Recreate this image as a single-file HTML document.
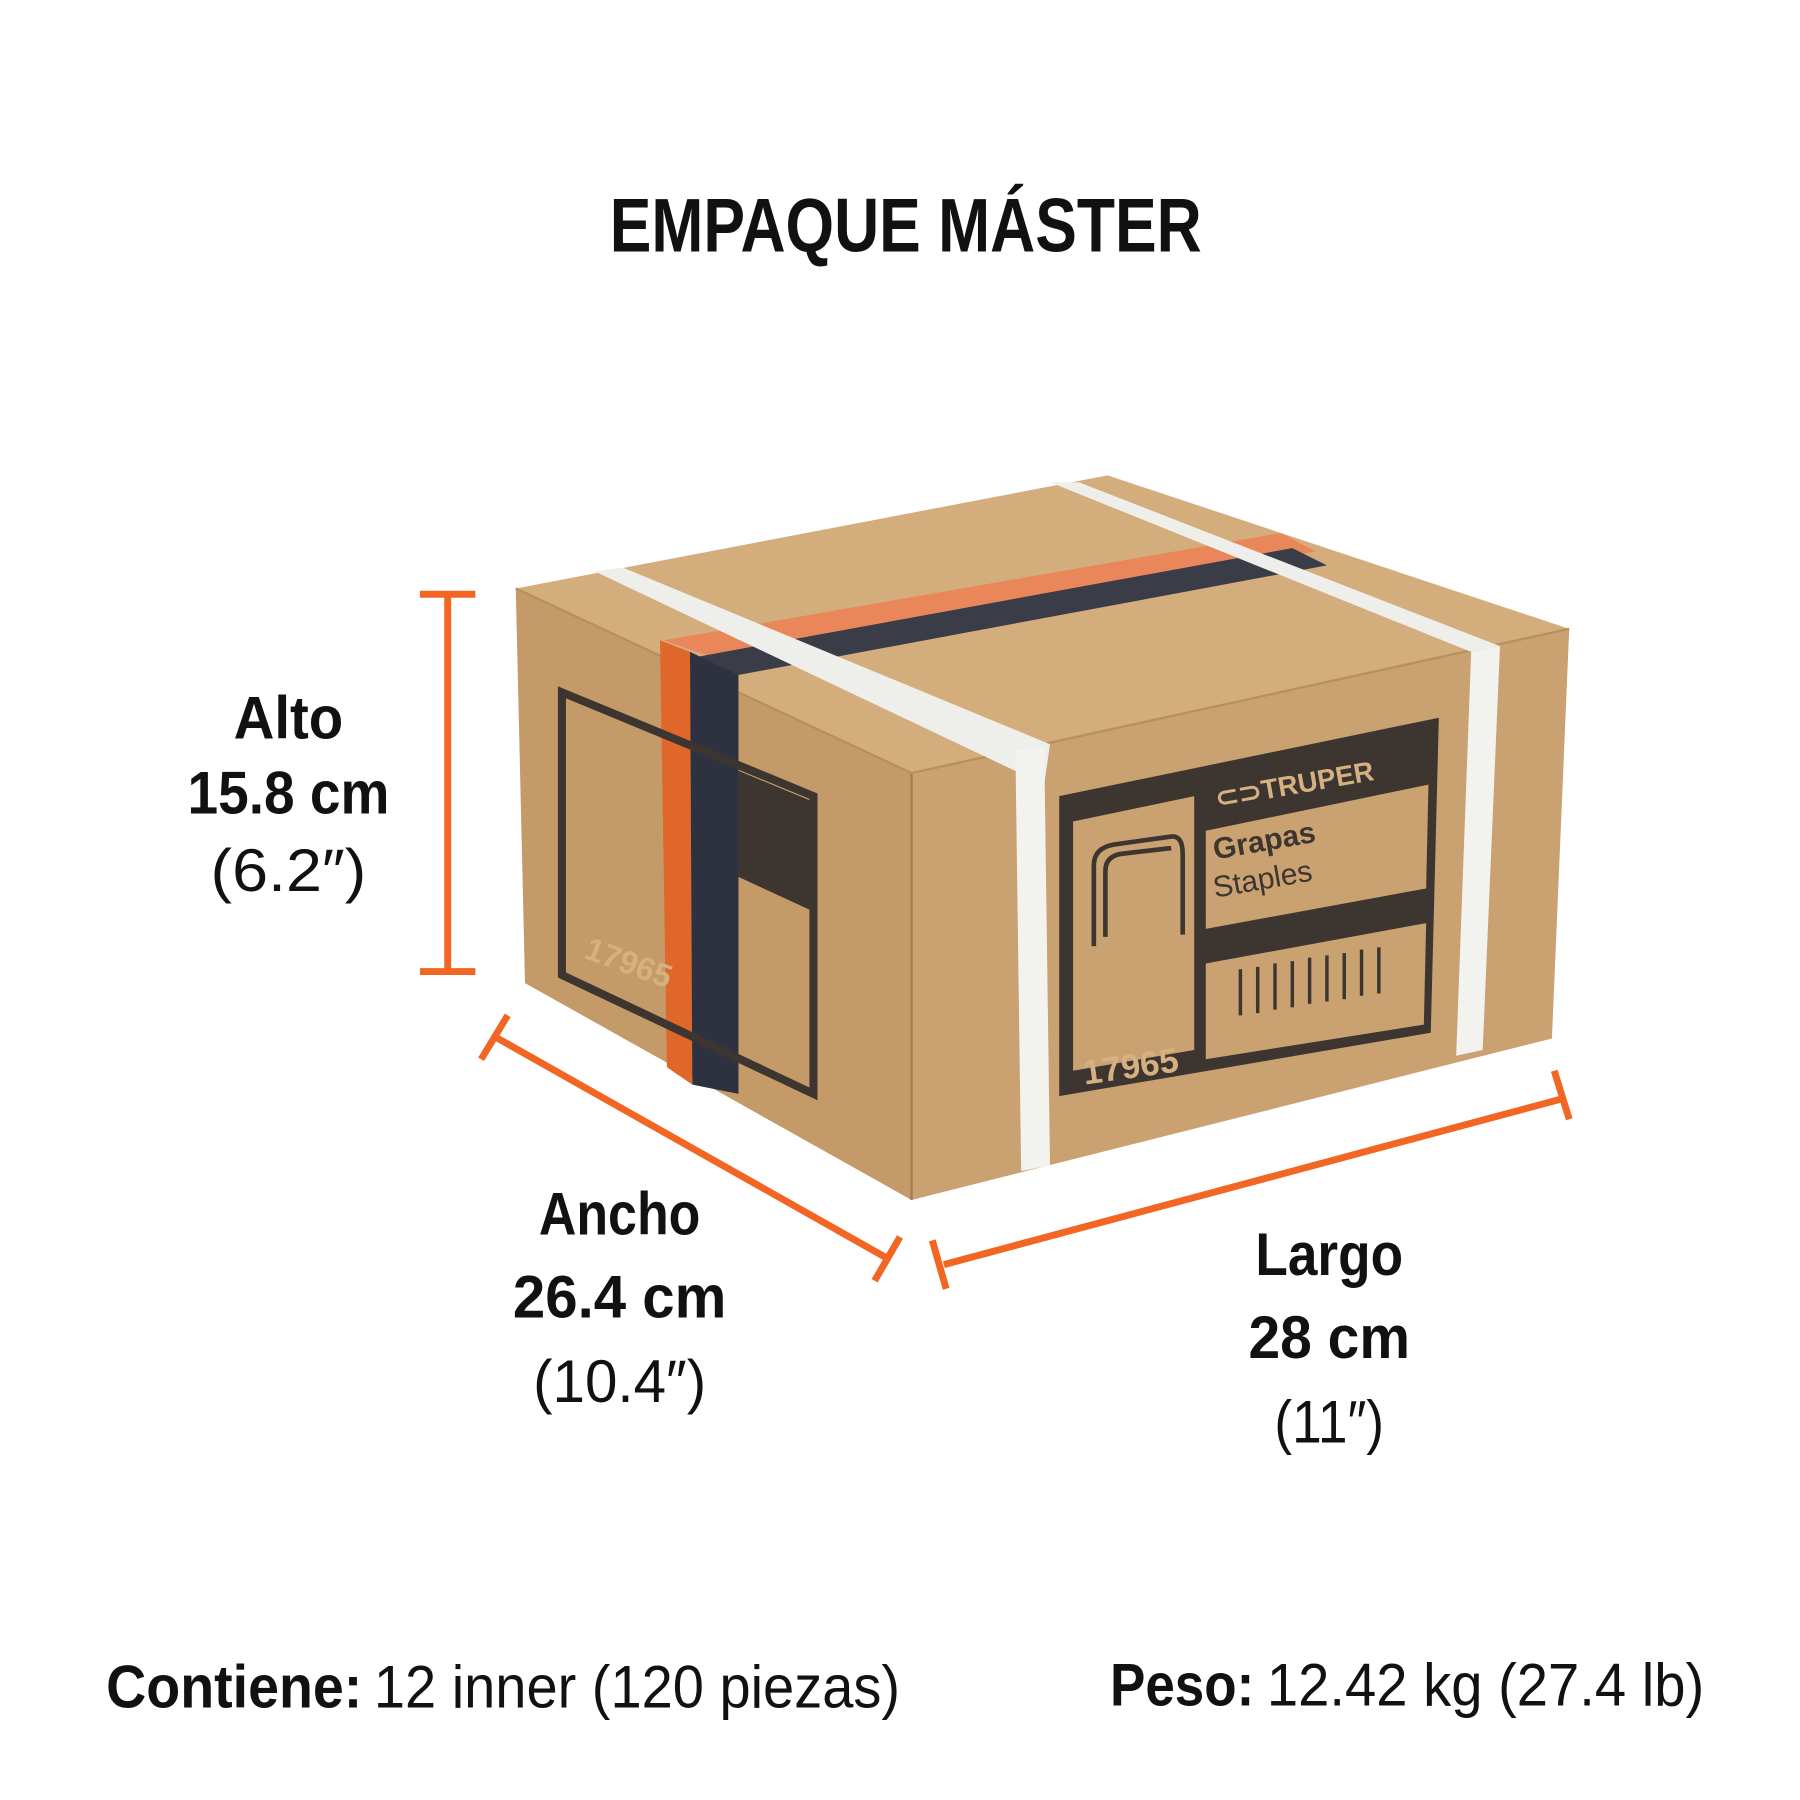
<!DOCTYPE html>
<html><head><meta charset="utf-8"><style>
html,body{margin:0;padding:0;background:#fff;width:1800px;height:1800px;overflow:hidden}
svg{display:block}
text{font-family:"Liberation Sans",sans-serif}
</style></head><body>
<svg width="1800" height="1800" viewBox="0 0 1560 1560" xmlns="http://www.w3.org/2000/svg">
<rect width="1560" height="1560" fill="#fff"/>
<!-- title -->
<text x="785" y="218" font-size="66" font-weight="bold" text-anchor="middle" textLength="513" lengthAdjust="spacingAndGlyphs" fill="#111">EMPAQUE MÁSTER</text>

<!-- box -->
<polygon points="447,510 960,412 1360,545 790,670" fill="#d4ad7c"/>
<polygon points="447,510 790,670 790,1040 455,852" fill="#c49a68"/>
<polygon points="790,670 1360,545 1345,900 790,1040" fill="#caa170"/>
<line x1="790" y1="670" x2="790" y2="1040" stroke="#a57d4e" stroke-width="2"/>
<line x1="447" y1="510" x2="790" y2="670" stroke="#b88f5e" stroke-width="2"/>
<line x1="790" y1="670" x2="1360" y2="545" stroke="#b88f5e" stroke-width="2"/>
<!-- top tape -->
<polygon points="575,555 1110,462 1140,478 625,572" fill="#e9865a"/>
<polygon points="600,570 1120,475 1150,490 640,585" fill="#3a3d48"/>
<!-- side tape -->
<polygon points="572,555 598,565 600,940 578,925" fill="#e0672a"/>
<polygon points="598,565 640,585 640,948 600,940" fill="#2e3240"/>
<!-- left label -->
<polygon points="487,600 705,690 705,948 487,845" fill="none" stroke="#3d3530" stroke-width="7"/>
<polygon points="640,668 705,695 705,790 640,760" fill="#3d3530"/>
<text x="505" y="830" font-size="28" font-weight="bold" fill="#d5b080" transform="rotate(20 505 830)">17965</text>
<!-- right label -->
<polygon points="918,690 1247,622 1240,895 918,950" fill="#3d3530"/>
<polygon points="930,712 1035,690 1035,910 930,928" fill="#caa170"/>
<polygon points="1045,720 1238,680 1236,770 1045,805" fill="#caa170"/>
<polygon points="1045,835 1236,800 1234,888 1045,918" fill="#caa170"/>
<text x="1055" y="700" font-size="24" font-weight="bold" fill="#d5b080" transform="rotate(-10 1055 700)">⊂⊃TRUPER</text>
<text x="1053" y="745" font-size="26" font-weight="bold" fill="#3d3530" transform="rotate(-10 1053 745)">Grapas</text>
<text x="1053" y="778" font-size="26" fill="#3d3530" transform="rotate(-10 1053 778)">Staples</text>
<text x="940" y="940" font-size="30" font-weight="bold" fill="#d5b080" transform="rotate(-8 940 940)">17965</text>
<g stroke="#3d3530" stroke-width="3">
<line x1="1075" y1="880" x2="1075" y2="840"/><line x1="1090" y1="878" x2="1090" y2="838"/><line x1="1105" y1="875" x2="1105" y2="835"/><line x1="1120" y1="873" x2="1120" y2="833"/><line x1="1135" y1="870" x2="1135" y2="830"/><line x1="1150" y1="868" x2="1150" y2="828"/><line x1="1165" y1="866" x2="1165" y2="826"/><line x1="1180" y1="863" x2="1180" y2="823"/><line x1="1195" y1="861" x2="1195" y2="821"/>
</g>
<g fill="none" stroke="#3d3530" stroke-width="4">
<path d="M948,820 V750 Q948,735 965,732 L1015,725 Q1025,724 1025,740 V810"/>
<path d="M958,812 V755 Q958,742 972,740 L1015,735"/>
</g>
<!-- strap -->
<polygon points="515,495 540,492 910,645 905,680" fill="#eeeeea"/>
<polygon points="880,650 905,648 910,1010 885,1015" fill="#f2f2ee"/>
<polygon points="910,418 935,418 1300,560 1275,565" fill="#eeeeea"/>
<polygon points="1275,565 1300,560 1285,910 1262,915" fill="#f2f2ee"/>

<!-- dimension lines -->
<g stroke="#f26522" stroke-width="6" fill="none">
<line x1="388" y1="515" x2="388" y2="842"/>
<line x1="364" y1="515" x2="412" y2="515"/>
<line x1="364" y1="842" x2="412" y2="842"/>
<line x1="428" y1="898" x2="768" y2="1090"/>
<line x1="417" y1="918" x2="440" y2="880"/>
<line x1="758" y1="1110" x2="780" y2="1072"/>
<line x1="818" y1="1096" x2="1355" y2="952"/>
<line x1="808" y1="1075" x2="820" y2="1117"/>
<line x1="1347" y1="928" x2="1360" y2="970"/>
</g>

<!-- labels -->
<g fill="#111" text-anchor="middle" font-size="52">
<text x="250" y="640" font-weight="bold" textLength="95" lengthAdjust="spacingAndGlyphs">Alto</text>
<text x="250" y="705" font-weight="bold" textLength="175" lengthAdjust="spacingAndGlyphs">15.8 cm</text>
<text x="250" y="772" textLength="135" lengthAdjust="spacingAndGlyphs">(6.2″)</text>
<text x="537" y="1070" font-weight="bold" textLength="140" lengthAdjust="spacingAndGlyphs">Ancho</text>
<text x="537" y="1142" font-weight="bold" textLength="185" lengthAdjust="spacingAndGlyphs">26.4 cm</text>
<text x="537" y="1215" textLength="150" lengthAdjust="spacingAndGlyphs">(10.4″)</text>
<text x="1152" y="1105" font-weight="bold" textLength="128" lengthAdjust="spacingAndGlyphs">Largo</text>
<text x="1152" y="1177" font-weight="bold" textLength="140" lengthAdjust="spacingAndGlyphs">28 cm</text>
<text x="1152" y="1250" textLength="95" lengthAdjust="spacingAndGlyphs">(11″)</text>
</g>
<g fill="#111" font-size="52">
<text x="92" y="1480" font-weight="bold" textLength="222" lengthAdjust="spacingAndGlyphs">Contiene:</text>
<text x="324" y="1480" textLength="456" lengthAdjust="spacingAndGlyphs">12 inner (120 piezas)</text>
<text x="962" y="1478" font-weight="bold" textLength="125" lengthAdjust="spacingAndGlyphs">Peso:</text>
<text x="1098" y="1478" textLength="379" lengthAdjust="spacingAndGlyphs">12.42 kg (27.4 lb)</text>
</g>
</svg>
</body></html>
